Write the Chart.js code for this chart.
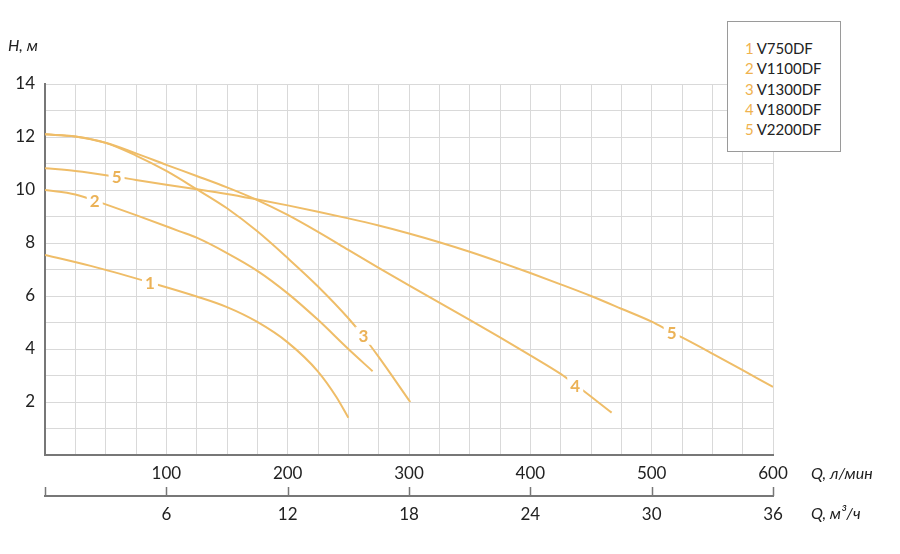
<!DOCTYPE html>
<html lang="ru">
<head>
  <meta charset="UTF-8" />
  <title>Напорные характеристики V750DF – V2200DF</title>
  <script src="https://cdn.jsdelivr.net/npm/chart.js"></script>
  <style>
    body {
      margin: 0;
      background: #ffffff;
      font-family: 'Lato', 'Open Sans', sans-serif;
      color: #222;
    }
    .wrap {
      position: relative;
      width: 900px;
      height: 554px;
    }
    canvas { display: block; }
    .axis-title {
      position: absolute;
      font-style: italic;
      font-size: 16px;
      line-height: 16px;
      white-space: nowrap;
    }
    .legend {
      position: absolute;
      left: 727px;
      top: 21px;
      width: 112px;
      height: 129px;
      border: 1px solid #9a9a9a;
      background: #fff;
    }
    .legend div {
      position: absolute;
      left: 17px;
      font-size: 15px;
      line-height: 16px;
      white-space: nowrap;
    }
    .legend span {
      color: #efb24f;
      margin-right: 3px;
    }
  </style>
</head>
<body>
<div class="wrap">
  <canvas id="pumpChart" width="900" height="554"></canvas>
  <div class="axis-title" style="left:8px; top:37px;">H, м</div>
  <div class="axis-title" style="left:811px; top:465px;">Q, л/мин</div>
  <div class="axis-title" style="left:811px; top:505px;">Q, м³/ч</div>
  <div class="legend" id="legend"></div>
</div>

<script>
// flow (л/мин) and head (м)
const q1 = [0, 43, 86.5, 125, 150, 175, 200, 225, 240, 250];
const h1 = [7.55, 7.07, 6.51, 5.98, 5.58, 5.02, 4.25, 3.15, 2.2, 1.41];

const q2 = [0, 25, 41, 75, 111, 125, 150, 175, 200, 225, 250, 270];
const h2 = [10.0, 9.83, 9.6, 9.05, 8.44, 8.2, 7.62, 6.95, 6.1, 5.1, 4.0, 3.16];

const q3 = [0, 25, 50, 75, 100, 125, 150, 175, 200, 225, 250, 262, 275, 301];
const h3 = [12.1, 12.02, 11.78, 11.3, 10.72, 10.03, 9.31, 8.44, 7.43, 6.36, 5.16, 4.5, 3.7, 2.0];

const q4 = [0, 25, 50, 75, 100, 125, 150, 175, 200, 225, 250, 275, 300, 325, 350, 375, 400, 425, 437, 467];
const h4 = [12.1, 12.02, 11.78, 11.38, 10.95, 10.53, 10.1, 9.62, 9.06, 8.42, 7.74, 7.06, 6.4, 5.75, 5.1, 4.44, 3.76, 3.06, 2.66, 1.6];

const q5 = [0, 25, 59, 75, 100, 125, 150, 175, 200, 225, 250, 275, 300, 325, 350, 375, 400, 425, 450, 475, 500, 516.5, 525, 550, 575, 600];
const h5 = [10.82, 10.72, 10.5, 10.38, 10.2, 10.03, 9.85, 9.64, 9.42, 9.18, 8.93, 8.66, 8.36, 8.03, 7.67, 7.28, 6.87, 6.44, 6.0, 5.52, 5.03, 4.63, 4.44, 3.83, 3.2, 2.57];

const models = ['V750DF', 'V1100DF', 'V1300DF', 'V1800DF', 'V2200DF'];

// curve number labels (on the lines)
const markText = ['1', '2', '3', '4', '5', '5'];
const markQ = [86.5, 41, 262.4, 437, 59, 516.5];
const markH = [6.51, 9.6, 4.5, 2.62, 10.5, 4.63];

const lineColor = '#efbd68';
const markColor = '#ebb257';
const gridColor = '#d9d9d9';
const axisColor = '#777777';

function toPoints(xs, ys) {
  return xs.map((x, i) => ({ x: x, y: ys[i] }));
}

const series = [[q1, h1], [q2, h2], [q3, h3], [q4, h4], [q5, h5]];

// legend box
const legend = document.getElementById('legend');
models.forEach((m, i) => {
  const d = document.createElement('div');
  d.style.top = (18 + i * 20.3) + 'px';
  d.innerHTML = '<span>' + (i + 1) + '</span>' + m;
  legend.appendChild(d);
});

const curveMarks = {
  id: 'curveMarks',
  afterDatasetsDraw(chart) {
    const ctx = chart.ctx;
    const xs = chart.scales.x, ys = chart.scales.y;
    ctx.save();
    ctx.font = 'bold 17px Lato, sans-serif';
    ctx.textAlign = 'center';
    ctx.textBaseline = 'middle';
    markText.forEach((t, i) => {
      const px = xs.getPixelForValue(markQ[i]);
      const py = ys.getPixelForValue(markH[i]);
      ctx.fillStyle = '#ffffff';
      ctx.fillRect(px - 8, py - 9, 16, 18);
      ctx.fillStyle = markColor;
      ctx.fillText(t, px, py + 1);
    });
    ctx.restore();
  }
};

// upward tick marks on the m3/h axis
const upTicks = {
  id: 'upTicks',
  afterDraw(chart) {
    const s = chart.scales.x2;
    const ctx = chart.ctx;
    ctx.save();
    ctx.strokeStyle = axisColor;
    ctx.lineWidth = 1.5;
    s.ticks.forEach(t => {
      const px = Math.round(s.getPixelForValue(t.value)) + 0.5;
      ctx.beginPath();
      ctx.moveTo(px, s.top);
      ctx.lineTo(px, s.top - 9);
      ctx.stroke();
    });
    ctx.restore();
  }
};

new Chart(document.getElementById('pumpChart'), {
  type: 'scatter',
  data: {
    datasets: series.map((s, i) => ({
      label: models[i],
      data: toPoints(s[0], s[1]),
      showLine: true,
      borderColor: lineColor,
      borderWidth: 2,
      pointRadius: 0,
      cubicInterpolationMode: 'monotone',
      fill: false
    }))
  },
  options: {
    responsive: false,
    animation: false,
    layout: { padding: { top: 84, right: 127, bottom: 20, left: 0 } },
    plugins: {
      legend: { display: false },
      tooltip: { enabled: false }
    },
    scales: {
      x: {
        type: 'linear',
        position: 'bottom',
        weight: 0,
        min: 0,
        max: 600,
        afterFit: s => { s.height = 41; },
        grid: { color: gridColor, lineWidth: 1, drawTicks: false },
        border: { color: axisColor, width: 2 },
        ticks: {
          stepSize: 25,
          autoSkip: false,
          maxRotation: 0,
          padding: 8,
          color: '#222',
          font: { family: 'Lato', size: 17 },
          callback: v => (v % 100 === 0 && v > 0) ? v : ''
        }
      },
      x2: {
        type: 'linear',
        position: 'bottom',
        weight: 1,
        min: 0,
        max: 36,
        afterFit: s => { s.height = 38; },
        grid: { display: true, drawOnChartArea: false, drawTicks: false },
        border: { color: axisColor, width: 2 },
        ticks: {
          stepSize: 6,
          autoSkip: false,
          maxRotation: 0,
          padding: 8,
          color: '#222',
          font: { family: 'Lato', size: 17 },
          callback: v => v > 0 ? v : ''
        }
      },
      y: {
        type: 'linear',
        min: 0,
        max: 14,
        afterFit: s => { s.width = 45; },
        grid: { color: gridColor, lineWidth: 1, drawTicks: false },
        border: { color: axisColor, width: 2 },
        ticks: {
          stepSize: 1,
          autoSkip: false,
          padding: 10,
          color: '#222',
          font: { family: 'Lato', size: 17 },
          callback: v => (v % 2 === 0 && v > 0) ? v : ''
        }
      }
    }
  },
  plugins: [curveMarks, upTicks]
});
</script>
</body>
</html>
